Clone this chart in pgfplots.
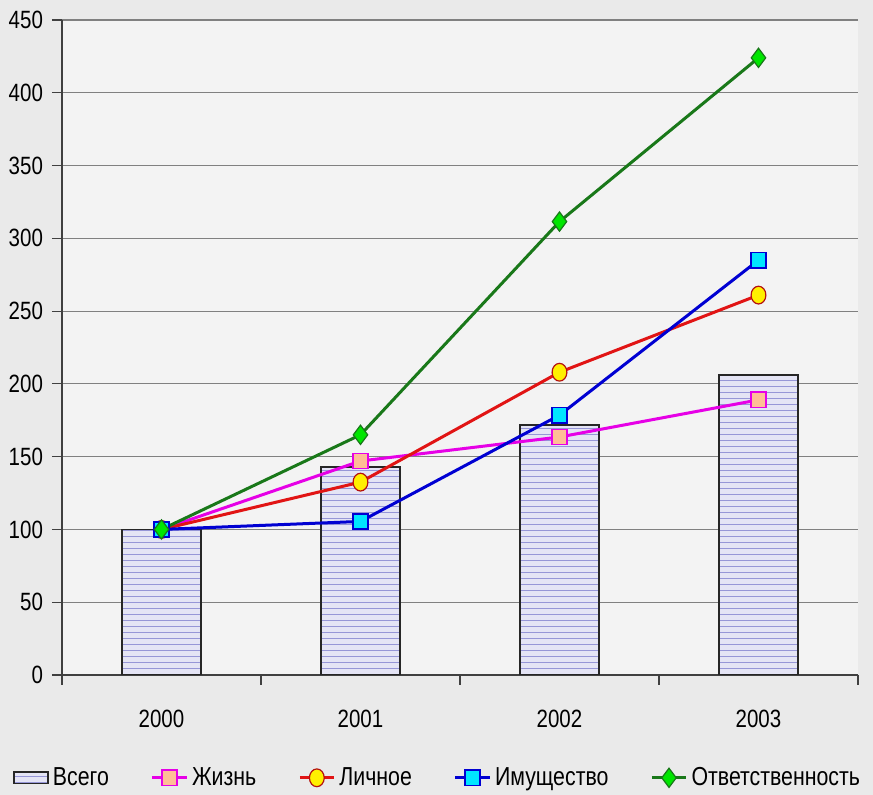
\documentclass[border=0pt]{standalone}
\usepackage{pgfplots}
\pgfplotsset{compat=1.18}
\usepackage{fontspec}
\setmainfont{Liberation Sans}[FakeStretch=0.82]
\usetikzlibrary{patterns,backgrounds}
\definecolor{bgout}{RGB}{234,234,234}
\definecolor{bgin}{RGB}{243,243,243}
\definecolor{barfill}{RGB}{228,228,245}
\definecolor{barline}{RGB}{150,150,215}
\definecolor{lifeline}{RGB}{230,0,230}
\definecolor{lifefill}{RGB}{255,190,150}
\definecolor{persline}{RGB}{225,20,20}
\definecolor{persfill}{RGB}{255,240,0}
\definecolor{propline}{RGB}{0,0,210}
\definecolor{propfill}{RGB}{0,230,255}
\definecolor{liabline}{RGB}{25,120,25}
\definecolor{liabfill}{RGB}{0,230,0}
\begin{document}
\begin{tikzpicture}
\useasboundingbox (-31pt,-60pt) rectangle (405.5pt,337.5pt);
\begin{pgfonlayer}{background}
\fill[bgout] (-31pt,-60pt) rectangle (405.5pt,337.5pt);
\end{pgfonlayer}
\begin{axis}[
  at={(0,0)}, anchor=south west,
  scale only axis, width=398pt, height=327.5pt,
  xmin=-0.5, xmax=3.5, ymin=0, ymax=450,
  xtick={0,1,2,3}, xticklabels={2000,2001,2002,2003},
  minor xtick={-0.5,0.5,1.5,2.5,3.5},
  ytick={0,50,...,450},
  axis lines=left, axis line style={-, draw=black!75, line width=0.8pt},
  axis background/.style={fill=bgin},
  ymajorgrids, grid style={black!50, line width=0.6pt},
  major x tick style={draw=none},
  minor x tick style={draw=black!75, line width=0.6pt},
  minor tick length=5pt,
  y tick style={draw=black!75, line width=0.6pt},
  tick align=outside, major tick length=5pt,
  /pgf/number format/assume math mode=true,
  tick label style={font=\fontsize{12.5}{14}\selectfont},
  xticklabel style={yshift=-9pt},
  yticklabel style={xshift=-1pt},
  legend columns=5,
  legend style={at={(0.473,-0.128)}, anchor=north, draw=none, fill=none,
    font=\fontsize{13}{15}\selectfont, /tikz/every even column/.append style={column sep=19pt}},
  legend cell align=left,
]
\addplot[ybar, bar width=0.4, draw=black!85, line width=0.9pt, fill=barfill,
  postaction={pattern=horizontal lines, pattern color=barline},
  area legend] coordinates {(0,100) (1,143) (2,171.5) (3,206)};
\addlegendentry{Всего}
\addplot[lifeline, line width=1.5pt, mark=square*, mark size=3.8pt,
  mark options={fill=lifefill, draw=lifeline, line width=0.8pt}]
  coordinates {(0,100) (1,147) (2,163.5) (3,189)};
\addlegendentry{Жизнь}
\addplot[persline, line width=1.5pt, mark=*, mark size=3.7pt,
  mark options={fill=persfill, draw=persline!80!black, line width=0.6pt, yscale=1.2}]
  coordinates {(0,100) (1,132.5) (2,208) (3,261)};
\addlegendentry{Личное}
\addplot[propline, line width=1.5pt, mark=square*, mark size=3.8pt,
  mark options={fill=propfill, draw=propline, line width=0.8pt}]
  coordinates {(0,100) (1,105.5) (2,178.5) (3,285)};
\addlegendentry{Имущество}
\addplot[liabline, line width=1.5pt, mark=diamond*, mark size=4.8pt,
  mark options={fill=liabfill, draw=liabline, line width=0.6pt}]
  coordinates {(0,100) (1,165) (2,311.5) (3,424)};
\addlegendentry{Ответственность}
\end{axis}
\end{tikzpicture}
\end{document}
